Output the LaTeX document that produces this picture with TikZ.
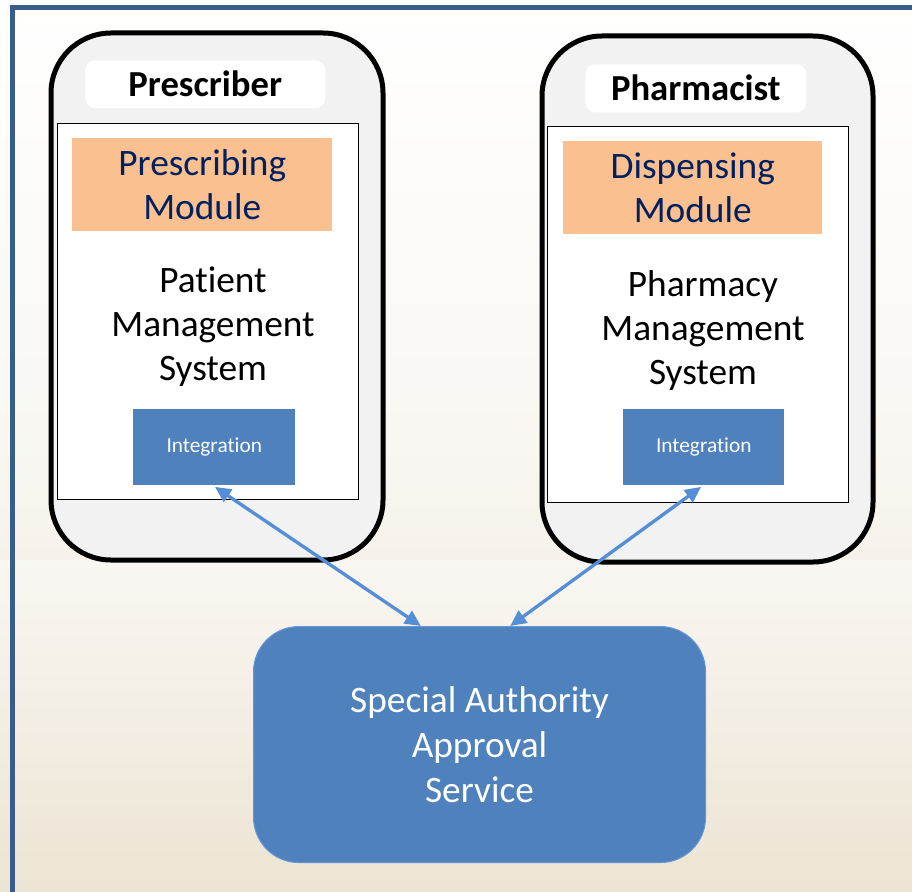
\documentclass[tikz,border=0pt]{standalone}
\usepackage{fontspec}
\setmainfont[Ligatures=NoCommon,RawFeature=-liga]{Carlito}
\usetikzlibrary{arrows.meta}
\definecolor{frameblue}{RGB}{56,93,138}
\definecolor{devfill}{RGB}{242,242,242}
\definecolor{orange1}{RGB}{250,192,144}
\definecolor{navytext}{RGB}{0,32,96}
\definecolor{intblue}{RGB}{79,129,189}
\definecolor{arrowblue}{RGB}{85,142,213}
\definecolor{beige}{RGB}{236,228,212}
\definecolor{sasedge}{RGB}{100,150,215}
\begin{document}
\begin{tikzpicture}[x=0.75pt,y=-0.75pt,
  device/.style={draw=black,line width=3.75pt,fill=devfill,rounded corners=45pt,anchor=north west,inner sep=0pt},
  rolebox/.style={fill=white,rounded corners=7.5pt,anchor=north west,inner sep=0pt,minimum height=36pt,font=\fontsize{27.5}{32}\selectfont\bfseries},
  sysbox/.style={draw=black,line width=0.9pt,fill=white,anchor=north west,inner sep=0pt},
  modbox/.style={fill=orange1,anchor=north west,inner sep=0pt,minimum height=69.75pt,align=center,text=navytext,font=\fontsize{28}{33}\selectfont},
  systext/.style={align=center,font=\fontsize{28}{33}\selectfont},
  intbox/.style={fill=intblue,anchor=north west,inner sep=0pt,minimum height=57pt,text=white,font=\fontsize{16}{19}\selectfont},
  sasbox/.style={fill=intblue,draw=sasedge,line width=0.8pt,rounded corners=34pt,anchor=north west,inner sep=0pt,minimum width=339pt,minimum height=177pt,align=center,text=white,font=\fontsize{28}{33.5}\selectfont},
  link/.style={draw=arrowblue,line width=2.5pt,{Triangle[length=12pt,width=11pt]}-{Triangle[length=12pt,width=11pt]}}
]
\useasboundingbox (0,0) rectangle (912,891);
\shade[top color=white,bottom color=beige,middle color=white!70!beige] (0,0) rectangle (912,891);
\shade[top color=white!70!beige,bottom color=beige] (0,560) rectangle (912,891);
\draw[frameblue,line width=3.75pt] (12.5,7.5) rectangle (930,910);

% left device
\node[device,minimum width=249pt,minimum height=395.25pt] (devL) at (48.5,30.5) {};
\node[rolebox,minimum width=180pt] (roleL) at (85,60) {Prescriber};
\node[sysbox,minimum width=225.75pt,minimum height=282pt] (sysL) at (57,123) {};
\node[modbox,minimum width=195pt] (modL) at (72,138) {Prescribing\\Module};
\node[systext] (txtL) at (213,327) {Patient\\Management\\System};
\node[intbox,minimum width=121.5pt] (intL) at (133,409) {Integration};

% right device
\node[device,minimum width=248.25pt,minimum height=394.5pt] (devR) at (539.5,33.5) {};
\node[rolebox,minimum width=165.75pt] (roleR) at (585,64) {Pharmacist};
\node[sysbox,minimum width=225.75pt,minimum height=282pt] (sysR) at (547,126) {};
\node[modbox,minimum width=194.25pt] (modR) at (563,141) {Dispensing\\Module};
\node[systext] (txtR) at (703,331) {Pharmacy\\Management\\System};
\node[intbox,minimum width=120.75pt] (intR) at (623,409) {Integration};

% service
\node[sasbox] (sas) at (253,626) {Special Authority\\Approval\\Service};

\draw[link] ([xshift=0.5pt,yshift=-1pt]intL.south) -- ([xshift=-44pt]sas.north);
\draw[link] ([xshift=-2pt,yshift=-1pt]intR.south) -- ([xshift=23pt]sas.north);
\end{tikzpicture}
\end{document}
